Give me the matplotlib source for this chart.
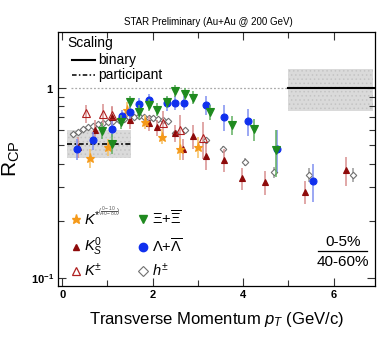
import matplotlib
matplotlib.use("Agg")
import matplotlib.pyplot as plt
from matplotlib.ticker import FixedLocator, NullFormatter
import numpy as np

plt.rcParams['font.family'] = ['Liberation Sans', 'DejaVu Sans']
plt.rcParams['mathtext.fontset'] = 'custom'
plt.rcParams['mathtext.rm'] = 'Liberation Sans'
plt.rcParams['mathtext.it'] = 'Liberation Sans:italic'
plt.rcParams['mathtext.bf'] = 'Liberation Sans:bold'

# ---------------- data ----------------
h_pt = [0.25, 0.36, 0.47, 0.58, 0.69, 0.80, 0.91, 1.02, 1.13, 1.25, 1.36, 1.47, 1.58, 1.69,
        1.80, 1.91, 2.02, 2.13, 2.24, 2.35, 2.50, 2.72, 3.17, 3.55, 4.05, 4.69, 5.46, 6.42]
h_r = [0.57, 0.59, 0.607, 0.62, 0.63, 0.644, 0.657, 0.665, 0.673, 0.68, 0.687, 0.70, 0.706, 0.71,
       0.70, 0.695, 0.695, 0.69, 0.68, 0.67, 0.58, 0.60, 0.53, 0.475, 0.41, 0.36, 0.35, 0.35]
h_err = [0.01] * 20 + [0.015, 0.015, 0.02, 0.02, 0.02, 0.025, 0.03, 0.03]

ks_pt = [0.35, 0.73, 1.10, 1.50, 1.91, 2.09, 2.50, 2.68, 2.89, 3.18, 3.57, 3.97, 4.49, 5.36, 6.28]
ks_r = [0.49, 0.60, 0.70, 0.68, 0.655, 0.62, 0.58, 0.48, 0.56, 0.44, 0.42, 0.335, 0.32, 0.285, 0.37]
ks_err = [0.06, 0.08, 0.09, 0.07, 0.06, 0.06, 0.06, 0.06, 0.08, 0.07, 0.06, 0.045, 0.045, 0.04, 0.065]

kc_pt = [0.53, 0.91, 1.11, 2.23, 2.61, 3.11]
kc_r = [0.735, 0.73, 0.72, 0.657, 0.60, 0.545]
kc_err = [0.08, 0.09, 0.08, 0.10, 0.12, 0.12]

kst_pt = [0.62, 1.02, 1.43, 1.84, 2.20, 2.61, 3.00]
kst_r = [0.43, 0.49, 0.77, 0.665, 0.555, 0.48, 0.49]
kst_err = [0.05, 0.05, 0.07, 0.06, 0.05, 0.06, 0.06]

lam_pt = [0.32, 0.69, 1.10, 1.32, 1.50, 1.71, 1.92, 2.32, 2.50, 2.70, 3.19, 3.57, 4.10, 4.75, 5.55]
lam_r = [0.48, 0.53, 0.61, 0.71, 0.75, 0.82, 0.865, 0.83, 0.835, 0.835, 0.815, 0.706, 0.67, 0.48, 0.325]
lam_err = [0.06, 0.06, 0.06, 0.06, 0.06, 0.07, 0.07, 0.07, 0.07, 0.07, 0.09, 0.11, 0.11, 0.12, 0.075]

xi_pt = [0.88, 1.10, 1.30, 1.50, 1.71, 1.91, 2.09, 2.32, 2.50, 2.71, 2.90, 3.26, 3.75, 4.25, 4.73]
xi_r = [0.597, 0.51, 0.665, 0.847, 0.75, 0.814, 0.77, 0.847, 0.97, 0.935, 0.89, 0.745, 0.64, 0.605, 0.47]
xi_err = [0.06, 0.06, 0.06, 0.06, 0.06, 0.06, 0.06, 0.06, 0.07, 0.07, 0.07, 0.07, 0.075, 0.08, 0.13]

# scaling bands
part_x = [0.11, 1.53]
part_val = 0.507
part_band = [0.43, 0.60]
bin_x = [5.0, 6.88]
bin_val = 1.0
bin_band = [0.76, 1.26]

# ---------------- figure ----------------
fig = plt.figure(figsize=(3.82, 3.46), dpi=100)
ax = fig.add_axes([0.152, 0.174, 0.830, 0.7335])
ax.set_yscale('log')
ax.set_xlim(-0.09, 6.92)
ax.set_ylim(0.0911, 1.97)

# bands
plt.rcParams['hatch.linewidth'] = 0.6
ax.fill_between(part_x, part_band[0], part_band[1], facecolor='#dadada', lw=0, zorder=1,
                hatch='....', edgecolor='#c4c4c4')
ax.plot(part_x, [part_val, part_val], color='black', lw=1.2, ls=(0, (3, 1.5, 1, 1.5)), zorder=2)
ax.fill_between(bin_x, bin_band[0], bin_band[1], facecolor='#dadada', lw=0, zorder=1,
                hatch='....', edgecolor='#c4c4c4')
ax.plot([bin_x[0], 6.92], [bin_val, bin_val], color='black', lw=1.5, zorder=2)
ax.plot([0.2, bin_x[0]], [1, 1], color='#aaaaaa', lw=0.9, ls=(0, (1.5, 1.5)), zorder=1)

def series(x, y, e, marker, mfc, mec, ecol, ms, z=3, mew=0.8):
    ax.errorbar(x, y, yerr=e, fmt='none', ecolor=ecol, elinewidth=1.1, capsize=0, zorder=z)
    ax.plot(x, y, ls='none', marker=marker, mfc=mfc, mec=mec, ms=ms, mew=mew, zorder=z + 0.5)

series(h_pt, h_r, h_err, 'D', 'white', '#707070', '#9a9a9a', 3.3, z=3)
series(ks_pt, ks_r, ks_err, '^', '#8e0a0a', '#8e0a0a', '#d89090', 4.8, z=4)
series(kc_pt, kc_r, kc_err, '^', 'none', '#b02020', '#d89090', 5.2, z=4)
series(kst_pt, kst_r, kst_err, '*', '#f59a1a', '#f59a1a', '#f7c060', 6.5, z=5)
series(lam_pt, lam_r, lam_err, 'o', '#1030ee', '#1030ee', '#8090f0', 5.0, z=5)
series(xi_pt, xi_r, xi_err, 'v', '#1f8a1f', '#1f8a1f', '#60b060', 6.0, z=6)

# ticks
ax.xaxis.set_major_locator(FixedLocator([0, 2, 4, 6]))
ax.xaxis.set_minor_locator(FixedLocator([1, 3, 5]))
ax.yaxis.set_major_locator(FixedLocator([0.1, 1]))
ax.yaxis.set_minor_locator(FixedLocator([0.2, 0.3, 0.4, 0.5, 0.6, 0.7, 0.8, 0.9]))
ax.yaxis.set_minor_formatter(NullFormatter())
ax.set_xticklabels(['0', '2', '4', '6'], fontweight='bold', fontsize=8)
ax.set_yticklabels([r'$\mathbf{10^{-1}}$', r'$\mathbf{1}$'], fontsize=8)
ax.tick_params(which='both', direction='in', top=True, right=True, width=0.8, color='#333333')
ax.tick_params(which='major', length=6, pad=3)
ax.tick_params(which='minor', length=4)
for s in ax.spines.values():
    s.set_linewidth(0.9)

ax.set_xlabel(r'Transverse Momentum $p_T$ (GeV/c)', fontsize=12, labelpad=7)
ax.set_ylabel(r'R$_{\mathrm{CP}}$', fontsize=15, labelpad=6)

fig.text(0.545, 0.935, 'STAR Preliminary (Au+Au @ 200 GeV)', ha='center', va='center', fontsize=7)

# scaling legend
ax.text(0.03, 0.955, 'Scaling', transform=ax.transAxes, fontsize=10, va='center', ha='left')
ax.plot([0.045, 0.115], [0.89, 0.89], transform=ax.transAxes, color='black', lw=1.5)
ax.text(0.128, 0.89, 'binary', transform=ax.transAxes, fontsize=10, va='center', ha='left')
ax.plot([0.045, 0.115], [0.83, 0.83], transform=ax.transAxes, color='black', lw=1.1,
        ls=(0, (3, 1.5, 1, 1.5)))
ax.text(0.128, 0.83, 'participant', transform=ax.transAxes, fontsize=10, va='center', ha='left')

# species legend
rows = [0.263, 0.153, 0.058]
c1m, c1t, c2m, c2t = 0.057, 0.082, 0.268, 0.295
ax.plot([c1m], [rows[0]], transform=ax.transAxes, marker='*', color='#f59a1a', ms=6.5, ls='none')
ax.text(c1t, rows[0], r'$K^{*}$', transform=ax.transAxes, fontsize=10.5, va='center')
ax.text(c1t + 0.045, rows[0] + 0.03, r'$(\frac{0-10}{40-80})$', transform=ax.transAxes,
        fontsize=5, va='center', color='#555555')
ax.plot([c1m], [rows[1]], transform=ax.transAxes, marker='^', color='#8e0a0a', ms=5, ls='none')
ax.text(c1t, rows[1], r'$K^{0}_{S}$', transform=ax.transAxes, fontsize=10.5, va='center')
ax.plot([c1m], [rows[2]], transform=ax.transAxes, marker='^', mfc='none', mec='#b02020', ms=6,
        ls='none', mew=0.9)
ax.text(c1t, rows[2], r'$K^{\pm}$', transform=ax.transAxes, fontsize=10.5, va='center')
ax.plot([c2m], [rows[0]], transform=ax.transAxes, marker='v', color='#1f8a1f', ms=6, ls='none')
ax.text(c2t, rows[0], r'$\Xi$+$\overline{\Xi}$', transform=ax.transAxes, fontsize=10.5, va='center')
ax.plot([c2m], [rows[1]], transform=ax.transAxes, marker='o', color='#1030ee', ms=6, ls='none')
ax.text(c2t, rows[1], r'$\Lambda$+$\overline{\Lambda}$', transform=ax.transAxes, fontsize=10.5,
        va='center')
ax.plot([c2m], [rows[2]], transform=ax.transAxes, marker='D', mfc='white', mec='#707070', ms=5,
        ls='none', mew=0.8)
ax.text(c2t, rows[2], r'$h^{\pm}$', transform=ax.transAxes, fontsize=10.5, va='center')

# centrality ratio
ax.text(0.899, 0.172, '0-5%', transform=ax.transAxes, fontsize=11, ha='center', va='center')
ax.plot([0.82, 0.975], [0.137, 0.137], transform=ax.transAxes, color='black', lw=0.9)
ax.text(0.899, 0.092, '40-60%', transform=ax.transAxes, fontsize=11, ha='center', va='center')

fig.savefig('out.png', dpi=100)
